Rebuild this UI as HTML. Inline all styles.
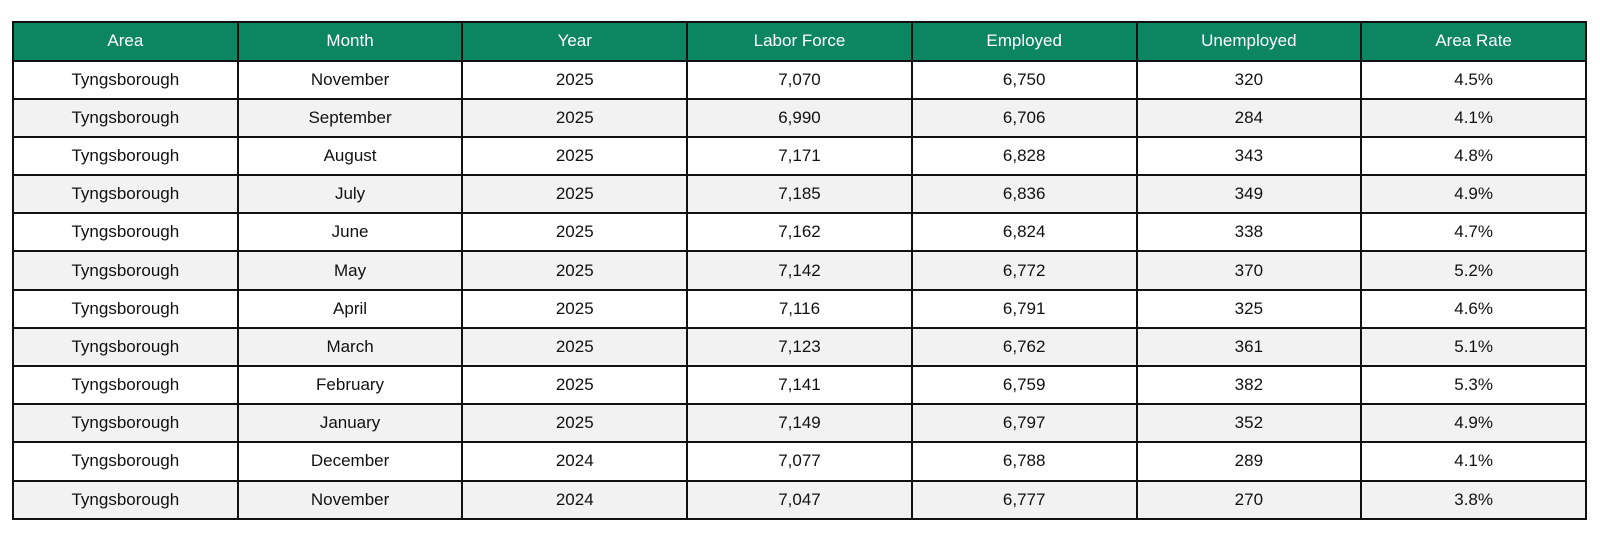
<!DOCTYPE html>
<html><head><style>
body{margin:0;width:1600px;height:549px;background:#fff;font-family:"Liberation Sans",sans-serif;}
table{position:absolute;left:12px;top:21px;border-collapse:collapse;width:1575px;table-layout:fixed;}
td,th{border:2px solid #111;text-align:center;font-size:17px;height:36.2px;padding:0;color:#111;font-weight:normal;box-sizing:content-box;}
th{background:#0b8661;color:#fff;height:36.5px;}
tbody tr:nth-child(odd) td{background:#fff;}
tbody tr:nth-child(even) td{background:#f2f2f2;}
</style></head><body>
<table>
<thead><tr><th>Area</th><th>Month</th><th>Year</th><th>Labor Force</th><th>Employed</th><th>Unemployed</th><th>Area Rate</th></tr></thead>
<tbody>
<tr><td>Tyngsborough</td><td>November</td><td>2025</td><td>7,070</td><td>6,750</td><td>320</td><td>4.5%</td></tr>
<tr><td>Tyngsborough</td><td>September</td><td>2025</td><td>6,990</td><td>6,706</td><td>284</td><td>4.1%</td></tr>
<tr><td>Tyngsborough</td><td>August</td><td>2025</td><td>7,171</td><td>6,828</td><td>343</td><td>4.8%</td></tr>
<tr><td>Tyngsborough</td><td>July</td><td>2025</td><td>7,185</td><td>6,836</td><td>349</td><td>4.9%</td></tr>
<tr><td>Tyngsborough</td><td>June</td><td>2025</td><td>7,162</td><td>6,824</td><td>338</td><td>4.7%</td></tr>
<tr><td>Tyngsborough</td><td>May</td><td>2025</td><td>7,142</td><td>6,772</td><td>370</td><td>5.2%</td></tr>
<tr><td>Tyngsborough</td><td>April</td><td>2025</td><td>7,116</td><td>6,791</td><td>325</td><td>4.6%</td></tr>
<tr><td>Tyngsborough</td><td>March</td><td>2025</td><td>7,123</td><td>6,762</td><td>361</td><td>5.1%</td></tr>
<tr><td>Tyngsborough</td><td>February</td><td>2025</td><td>7,141</td><td>6,759</td><td>382</td><td>5.3%</td></tr>
<tr><td>Tyngsborough</td><td>January</td><td>2025</td><td>7,149</td><td>6,797</td><td>352</td><td>4.9%</td></tr>
<tr><td>Tyngsborough</td><td>December</td><td>2024</td><td>7,077</td><td>6,788</td><td>289</td><td>4.1%</td></tr>
<tr><td>Tyngsborough</td><td>November</td><td>2024</td><td>7,047</td><td>6,777</td><td>270</td><td>3.8%</td></tr>
</tbody></table>
</body></html>
